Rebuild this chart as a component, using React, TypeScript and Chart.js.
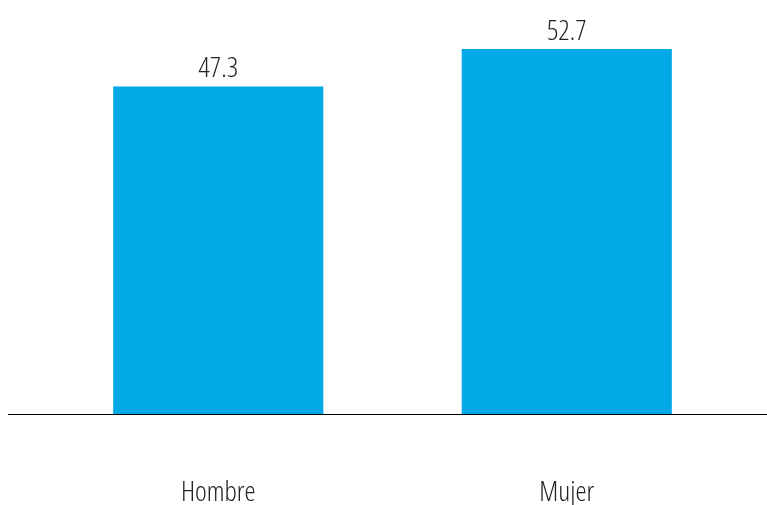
import React, { useEffect, useRef } from "react";
import { Chart, registerables } from "chart.js";

Chart.register(...registerables);

const categories = ["Hombre", "Mujer"];
const values = [47.3, 52.7];
const barColor = "#00A8E6";
const FONT_FAMILY = "'Open Sans', 'DejaVu Sans Condensed', sans-serif";
const FONT_WEIGHT = "300 condensed";

export default function App() {
  const ref = useRef<HTMLCanvasElement | null>(null);
  useEffect(() => {
    if (!ref.current) return;
    const valueLabels = {
      id: "valueLabels",
      afterDatasetsDraw(chart: any) {
        const ctx = chart.ctx;
        const meta = chart.getDatasetMeta(0);
        ctx.save();
        ctx.font = `${FONT_WEIGHT} 28px ${FONT_FAMILY}`;
        ctx.fillStyle = "#222";
        ctx.textAlign = "center";
        ctx.textBaseline = "alphabetic";
        meta.data.forEach((bar: any, i: number) => {
          ctx.fillText(values[i].toFixed(1), bar.x, bar.y - 9);
        });
        const y = Math.round(chart.chartArea.bottom) + 0.5;
        ctx.strokeStyle = "#000";
        ctx.lineWidth = 1.2;
        ctx.beginPath();
        ctx.moveTo(8, y);
        ctx.lineTo(chart.width, y);
        ctx.stroke();
        ctx.restore();
      },
    };
    const chart = new Chart(ref.current, {
      type: "bar",
      data: {
        labels: categories,
        datasets: [
          {
            data: values,
            backgroundColor: barColor,
            barPercentage: 0.603,
            categoryPercentage: 1,
          },
        ],
      },
      options: {
        animation: false,
        responsive: true,
        maintainAspectRatio: false,
        layout: { padding: { top: 33, left: 44, right: 26, bottom: -59 } },
        plugins: { legend: { display: false }, tooltip: { enabled: false } },
        scales: {
          x: {
            grid: { display: false },
            border: { display: false },
            ticks: {
              padding: 54,
              color: "#222",
              font: { family: FONT_FAMILY, size: 28, weight: FONT_WEIGHT as any },
            },
          },
          y: { display: false, min: 0, max: 55 },
        },
      },
      plugins: [valueLabels],
    });
    return () => chart.destroy();
  }, []);
  return (
    <>
      <style>{"html,body{margin:0;padding:0;overflow:hidden;}"}</style>
      <div style={{ width: 767, height: 505 }}>
        <canvas ref={ref} />
      </div>
    </>
  );
}
